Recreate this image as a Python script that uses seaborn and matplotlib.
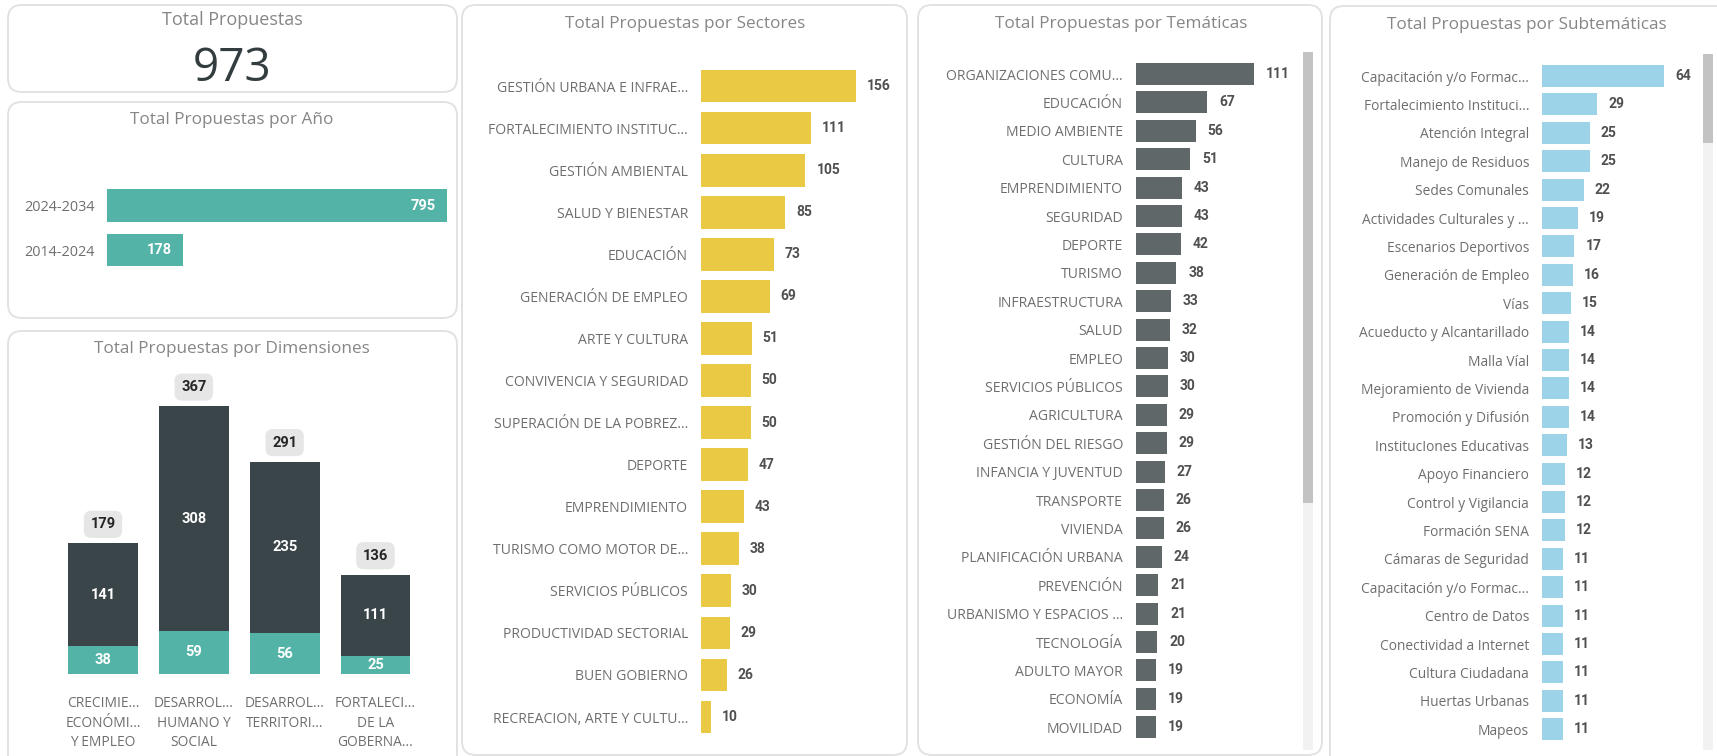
import matplotlib
matplotlib.use("Agg")
import matplotlib.pyplot as plt
import seaborn as sns
import pandas as pd
from matplotlib.patches import FancyBboxPatch, Rectangle

# ---------------- data ----------------
total_propuestas = 973

anio_labels = ["2024-2034", "2014-2024"]
anio_values = [795, 178]

dim_labels = ["CRECIMIE...\nECONÓMI...\nY EMPLEO",
              "DESARROL...\nHUMANO Y\nSOCIAL",
              "DESARROL...\nTERRITORI...",
              "FORTALECI...\nDE LA\nGOBERNA..."]
dim_2024_2034 = [141, 308, 235, 111]
dim_2014_2024 = [38, 59, 56, 25]

sector_labels = ["GESTIÓN URBANA E INFRAE...", "FORTALECIMIENTO INSTITUC...", "GESTIÓN AMBIENTAL",
                 "SALUD Y BIENESTAR", "EDUCACIÓN", "GENERACIÓN DE EMPLEO", "ARTE Y CULTURA",
                 "CONVIVENCIA Y SEGURIDAD", "SUPERACIÓN DE LA POBREZ...", "DEPORTE",
                 "EMPRENDIMIENTO", "TURISMO COMO MOTOR DE...", "SERVICIOS PÚBLICOS",
                 "PRODUCTIVIDAD SECTORIAL", "BUEN GOBIERNO", "RECREACION, ARTE Y CULTU..."]
sector_values = [156, 111, 105, 85, 73, 69, 51, 50, 50, 47, 43, 38, 30, 29, 26, 10]

tematica_labels = ["ORGANIZACIONES COMU...", "EDUCACIÓN", "MEDIO AMBIENTE", "CULTURA",
                   "EMPRENDIMIENTO", "SEGURIDAD", "DEPORTE", "TURISMO", "INFRAESTRUCTURA",
                   "SALUD", "EMPLEO", "SERVICIOS PÚBLICOS", "AGRICULTURA", "GESTIÓN DEL RIESGO",
                   "INFANCIA Y JUVENTUD", "TRANSPORTE", "VIVIENDA", "PLANIFICACIÓN URBANA",
                   "PREVENCIÓN", "URBANISMO Y ESPACIOS ...", "TECNOLOGÍA", "ADULTO MAYOR",
                   "ECONOMÍA", "MOVILIDAD"]
tematica_values = [111, 67, 56, 51, 43, 43, 42, 38, 33, 32, 30, 30, 29, 29, 27, 26, 26, 24,
                   21, 21, 20, 19, 19, 19]

sub_labels = ["Capacitación y/o Formac...", "Fortalecimiento Instituci...", "Atención Integral",
              "Manejo de Residuos", "Sedes Comunales", "Actividades Culturales y ...",
              "Escenarios Deportivos", "Generación de Empleo", "Vías",
              "Acueducto y Alcantarillado", "Malla Víal", "Mejoramiento de Vivienda",
              "Promoción y Difusión", "InstitucIones Educativas", "Apoyo Financiero",
              "Control y Vigilancia", "Formación SENA", "Cámaras de Seguridad",
              "Capacitación y/o Formac...", "Centro de Datos", "Conectividad a Internet",
              "Cultura Ciudadana", "Huertas Urbanas", "Mapeos"]
sub_values = [64, 29, 25, 25, 22, 19, 17, 16, 15, 14, 14, 14, 14, 13, 12, 12, 12, 11, 11, 11,
              11, 11, 11, 11]

# ---------------- style ----------------
sns.set_theme(style="white")
LAB_FONT = ["Open Sans", "DejaVu Sans"]
VAL_FONT = ["Roboto", "DejaVu Sans"]
plt.rcParams["font.family"] = LAB_FONT

TEAL = "#53b3a7"
DARK = "#3a4549"
YELLOW = "#eaca45"
GRAY = "#5f6769"
BLUE = "#9cd3e8"
LAB_C = "#6e6e6e"
TITLE_C = "#868686"
VAL_C = "#505050"

W, H = 1717, 756
fig = plt.figure(figsize=(W / 100, H / 100), dpi=100, facecolor="white")


def fx(x):
    return x / W


def fy(y):
    return 1 - y / H


def add_ax(left, top, right, bottom):
    ax = fig.add_axes([left / W, 1 - bottom / H, (right - left) / W, (bottom - top) / H])
    ax.set_zorder(5)
    return ax


def panel(x0, y0, x1, y1):
    p = FancyBboxPatch((fx(x0), fy(y1)), (x1 - x0) / W, (y1 - y0) / H,
                       boxstyle="round,pad=0,rounding_size=0.008",
                       transform=fig.transFigure, fc="white", ec="#e2e2e2", lw=1.4,
                       mutation_aspect=W / H, zorder=-5)
    fig.patches.append(p)


def title(x, y, s, size=12.3):
    fig.text(fx(x), fy(y), s, ha="center", va="center", fontsize=size, color=TITLE_C,
             family=LAB_FONT)


def clean(ax):
    for s in ax.spines.values():
        s.set_visible(False)
    ax.set_facecolor("none")
    ax.set_xlabel("")
    ax.set_ylabel("")


# panels
panel(8, 5, 457, 92)
panel(8, 102, 457, 318)
panel(8, 331, 457, 770)
panel(462, 5, 907, 755)
panel(918, 5, 1322, 755)
panel(1330, 6, 1740, 770)

# ---------------- KPI ----------------
title(232, 20, "Total Propuestas", 13)
fig.text(fx(232), fy(69), f"{total_propuestas}", ha="center", va="center", fontsize=33,
         color="#333d40", family=LAB_FONT)

# ---------------- horizontal bar helper ----------------


def hbar(labels, values, color, left, right, first_c, spacing, ppu, bar_w,
         lab_pad, val_pad, fs_lab, fs_val, inside=False, val_color=VAL_C):
    n = len(values)
    top = first_c - spacing / 2
    bottom = first_c + spacing * (n - 0.5)
    ax = add_ax(left, top, right, bottom)
    df = pd.DataFrame({"idx": list(range(n)), "v": values})
    sns.barplot(data=df, x="v", y="idx", orient="h", color=color, saturation=1,
                width=bar_w, errorbar=None, linewidth=0, ax=ax)
    ax.set_xlim(0, (right - left) / ppu)
    ax.set_ylim(n - 0.5, -0.5)
    ax.set_yticks(range(n))
    ax.set_yticklabels(labels, fontsize=fs_lab, color=LAB_C, family=LAB_FONT)
    ax.tick_params(axis="y", length=0, pad=lab_pad * 0.72)
    ax.set_xticks([])
    clean(ax)
    for i, v in enumerate(values):
        if inside:
            ax.annotate(str(v), xy=(v, i), xytext=(-val_pad, 0), textcoords="offset pixels",
                        ha="right", va="center", fontsize=fs_val, color="white",
                        fontweight="bold", family=VAL_FONT)
        else:
            ax.annotate(str(v), xy=(v, i), xytext=(val_pad, 0), textcoords="offset pixels",
                        ha="left", va="center", fontsize=fs_val, color=val_color,
                        fontweight="bold", family=VAL_FONT)
    return ax


# ---------------- Año ----------------
title(232, 120, "Total Propuestas por Año")
hbar(anio_labels, anio_values, TEAL, 107, 452, 205.5, 44.5, 340 / 795, 0.74,
     12, 11, 10.4, 10.5, inside=True)

# ---------------- Sectores ----------------
title(685, 24, "Total Propuestas por Sectores")
hbar(sector_labels, sector_values, YELLOW, 701, 900, 86, 42.07, 155 / 156, 0.78,
     13, 11, 10.1, 10)

# ---------------- Temáticas ----------------
title(1121, 24, "Total Propuestas por Temáticas")
hbar(tematica_labels, tematica_values, GRAY, 1136, 1295, 74, 28.4, 118 / 111, 0.77,
     13, 12, 10.1, 10)
fig.patches.append(Rectangle((fx(1303), fy(750)), 10 / W, 698 / H, transform=fig.transFigure,
                             fc="#f2f2f2", ec="none", zorder=-2))
fig.patches.append(Rectangle((fx(1303), fy(503)), 10 / W, 451 / H, transform=fig.transFigure,
                             fc="#c3c3c3", ec="none", zorder=-1))

# ---------------- Subtemáticas ----------------
title(1527, 25, "Total Propuestas por Subtemáticas")
hbar(sub_labels, sub_values, BLUE, 1542, 1698, 76, 28.4, 122 / 64, 0.77,
     13, 11, 9.9, 10)
fig.patches.append(Rectangle((fx(1703), fy(750)), 10 / W, 696 / H, transform=fig.transFigure,
                             fc="#f2f2f2", ec="none", zorder=-2))
fig.patches.append(Rectangle((fx(1703), fy(143)), 10 / W, 89 / H, transform=fig.transFigure,
                             fc="#c3c3c3", ec="none", zorder=-1))

# ---------------- Dimensiones ----------------
title(232, 349, "Total Propuestas por Dimensiones")
dim_total = [a + b for a, b in zip(dim_2024_2034, dim_2014_2024)]
axd = add_ax(57.6, 380, 420.9, 674)
df_tot = pd.DataFrame({"dim": dim_labels, "v": dim_total})
df_low = pd.DataFrame({"dim": dim_labels, "v": dim_2014_2024})
sns.barplot(data=df_tot, x="dim", y="v", color=DARK, saturation=1, width=0.77,
            errorbar=None, linewidth=0, ax=axd)
sns.barplot(data=df_low, x="dim", y="v", color=TEAL, saturation=1, width=0.77,
            errorbar=None, linewidth=0, ax=axd)
axd.set_ylim(0, 294 / 0.730)
axd.set_xlim(-0.5, 3.5)
axd.set_yticks([])
axd.set_xticks(range(4))
axd.set_xticklabels(dim_labels, fontsize=9.9, color=LAB_C, family=LAB_FONT, linespacing=1.42)
axd.tick_params(axis="x", length=0, pad=16)
clean(axd)
for i, (hi, lo, tot) in enumerate(zip(dim_2024_2034, dim_2014_2024, dim_total)):
    axd.text(i, lo + hi / 2, str(hi), ha="center", va="center", fontsize=10.5, color="white",
             fontweight="bold", family=VAL_FONT)
    axd.text(i, lo / 2, str(lo), ha="center", va="center", fontsize=10.5, color="white",
             fontweight="bold", family=VAL_FONT)
    axd.annotate(str(tot), xy=(i, tot), xytext=(0, 19), textcoords="offset pixels",
                 ha="center", va="center", fontsize=10.5, color="#252525", fontweight="bold",
                 family=VAL_FONT, annotation_clip=False,
                 bbox=dict(boxstyle="round,pad=0.45,rounding_size=0.5", fc="#e6e6e6",
                           ec="none"))

fig.savefig("out.png", dpi=100, facecolor="white")
